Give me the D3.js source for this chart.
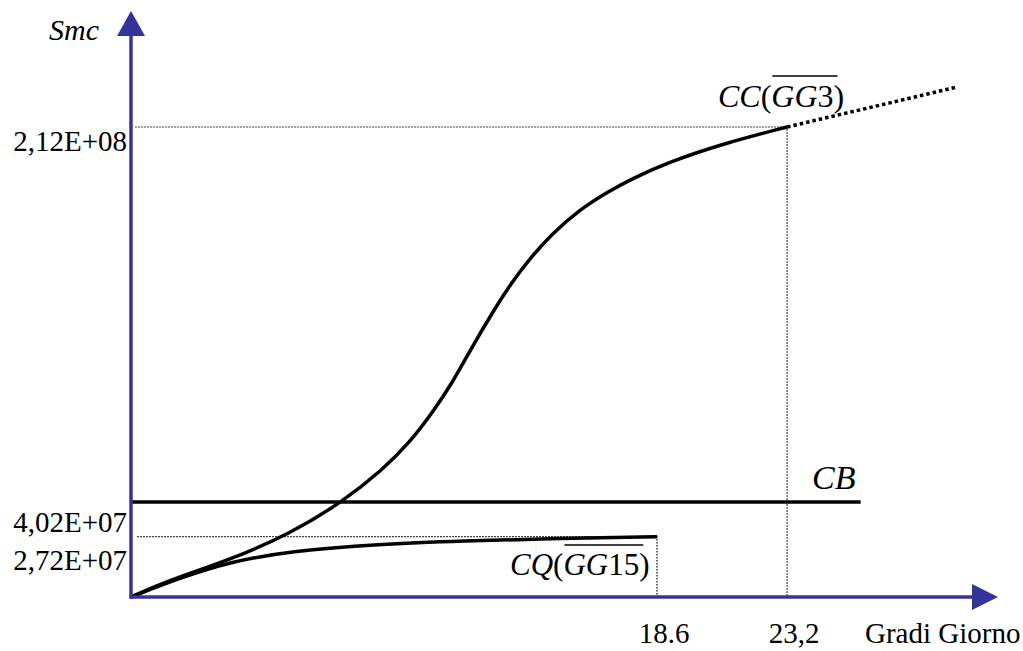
<!DOCTYPE html>
<html>
<head>
<meta charset="utf-8">
<script src="https://cdn.jsdelivr.net/npm/d3@7"></script>
<style>
  body { margin: 0; background: #fff; }
  svg text { font-family: "Liberation Serif", "Times New Roman", Times, serif; fill: #000; }
</style>
</head>
<body>
<div id="chart"></div>
<script>
// Gradi Giorno (x) / Smc (y)
const ccX = [0, 1.27, 3.49, 5.61, 7.48, 8.89, 9.84, 10.65, 11.36, 12.06, 12.77, 13.47, 14.18, 14.88, 15.84, 16.9, 17.71, 19.01, 21.02, 23.2];
const ccY = [0, 7.2e6, 16.7e6, 28.4e6, 42.9e6, 57.3e6, 69.5e6, 83.0e6, 96.5e6, 112.8e6, 128.1e6, 142.1e6, 153.8e6, 163.7e6, 174.6e6, 183.1e6, 188.6e6, 196.2e6, 204.8e6, 212e6];
const ccExtX = [23.2, 29.2];
const ccExtY = [212e6, 230e6];
const cqX = [0, 1.73, 3.49, 5.61, 8.78, 11.71, 15.13, 18.6];
const cqY = [0, 8.6e6, 15.8e6, 20.7e6, 23.9e6, 25.3e6, 26.4e6, 27.2e6];
const cbX = [0, 25.8];
const cbY = [42.9e6, 42.9e6];
const yTicks = [2.12e8, 4.02e7, 2.72e7];
const yTickLabels = ["2,12E+08", "4,02E+07", "2,72E+07"];
const xTicks = [18.6, 23.2];
const xTickLabels = ["18.6", "23,2"];

const width = 1023;
const height = 651;
const axisColor = "#333399";

const svg = d3.select("#chart")
    .append("svg")
    .attr("width", width)
    .attr("height", height);

const x = d3.scaleLinear().domain([0, 30]).range([131, 131 + 30 * 28.28]);
const y = d3.scaleLinear().domain([0, 2.12e8]).range([597, 127]);

const smooth = d3.line()
    .x(d => x(d[0]))
    .y(d => y(d[1]))
    .curve(d3.curveBasis);
const straight = d3.line()
    .x(d => x(d[0]))
    .y(d => y(d[1]));

// dotted guide lines
const guides = [
    [[0.15, 2.12e8], [23.2, 2.12e8], [23.2, 0]],
    [[0.22, 2.72e7], [18.6, 2.72e7], [18.6, 0]]
];
guides.forEach(g => {
    svg.append("path")
        .attr("d", straight(g))
        .attr("fill", "none")
        .attr("stroke", "#000")
        .attr("stroke-width", 1.2)
        .attr("stroke-dasharray", "1.5,1.5");
});

// curves
svg.append("path")
    .attr("d", smooth(ccX.map((v, i) => [v, ccY[i]])))
    .attr("fill", "none").attr("stroke", "#000").attr("stroke-width", 3.5);

svg.append("path")
    .attr("d", straight(ccExtX.map((v, i) => [v, ccExtY[i]])))
    .attr("fill", "none").attr("stroke", "#000").attr("stroke-width", 3.5)
    .attr("stroke-dasharray", "3.5,3");

svg.append("path")
    .attr("d", smooth(cqX.map((v, i) => [v, cqY[i]])))
    .attr("fill", "none").attr("stroke", "#000").attr("stroke-width", 3.5);

svg.append("path")
    .attr("d", straight(cbX.map((v, i) => [v, cbY[i]])))
    .attr("fill", "none").attr("stroke", "#000").attr("stroke-width", 3.5);

// axes with arrows
const x0 = x(0), y0 = y(0);
svg.append("line")
    .attr("x1", x0).attr("y1", y0 + 1.5).attr("x2", x0).attr("y2", 34)
    .attr("stroke", axisColor).attr("stroke-width", 3.5);
svg.append("polygon")
    .attr("points", `${x0 - 14},36 ${x0 + 14},36 ${x0},11`)
    .attr("fill", axisColor);
svg.append("line")
    .attr("x1", x0 - 1.5).attr("y1", y0).attr("x2", 974).attr("y2", y0)
    .attr("stroke", axisColor).attr("stroke-width", 3.5);
svg.append("polygon")
    .attr("points", `972,${y0 - 13} 972,${y0 + 13} 998,${y0}`)
    .attr("fill", axisColor);

// tick labels
const yNudge = [24, 24, 33];
yTicks.forEach((t, i) => {
    svg.append("text")
        .attr("x", 127).attr("y", y(t) + yNudge[i])
        .attr("text-anchor", "end")
        .attr("font-size", 29)
        .text(yTickLabels[i]);
});
xTicks.forEach((t, i) => {
    svg.append("text")
        .attr("x", x(t) + 7).attr("y", 643)
        .attr("text-anchor", "middle")
        .attr("font-size", 29)
        .text(xTickLabels[i]);
});

svg.append("text")
    .attr("x", 865).attr("y", 643)
    .attr("font-size", 29)
    .text("Gradi Giorno");

svg.append("text")
    .attr("x", 49).attr("y", 40)
    .attr("font-size", 30)
    .attr("font-style", "italic")
    .text("Smc");

svg.append("text")
    .attr("x", 812).attr("y", 489)
    .attr("font-size", 34)
    .attr("font-style", "italic")
    .text("CB");

// labels with overline
function overLabel(px, py, size, parts, from, to, lineY) {
    const t = svg.append("text")
        .attr("x", px).attr("y", py)
        .attr("font-size", size);
    parts.forEach(p => {
        t.append("tspan")
            .attr("font-style", p[1] ? "italic" : "normal")
            .text(p[0]);
    });
    const node = t.node();
    const a = node.getStartPositionOfChar(from).x;
    const b = node.getEndPositionOfChar(to).x;
    svg.append("line")
        .attr("x1", a + 1).attr("x2", b + 4).attr("y1", lineY).attr("y2", lineY)
        .attr("stroke", "#000").attr("stroke-width", 1.6);
}

overLabel(718, 107, 32, [["CC", true], ["(", false], ["GG", true], ["3", false], [")", false]], 3, 5, 76);
overLabel(510, 575, 31, [["CQ", true], ["(", false], ["GG", true], ["15", false], [")", false]], 3, 6, 545);
</script>
</body>
</html>
